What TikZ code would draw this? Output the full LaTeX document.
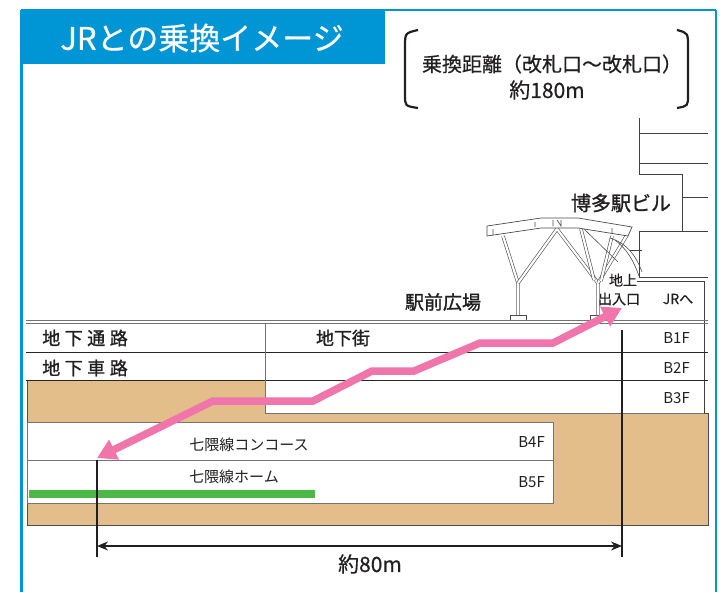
\documentclass[tikz,border=0pt]{standalone}
\usepackage{fontspec}
\setmainfont{Noto Sans CJK JP}
\newfontfamily\jpheavy[FakeBold=1.2]{Noto Sans CJK JP}
\newfontfamily\jpmid[FakeBold=0.5]{Noto Sans CJK JP}
\usetikzlibrary{arrows.meta}
\definecolor{frameblue}{RGB}{0,150,214}
\definecolor{earth}{RGB}{227,189,138}
\definecolor{routepink}{RGB}{239,117,170}
\definecolor{linegreen}{RGB}{77,184,72}
\definecolor{ink}{RGB}{35,31,32}
\tikzset{
  fs/.style={font=\fontsize{#1}{#1}\selectfont},
  hs/.style={font=\jpheavy\fontsize{#1}{#1}\selectfont},
  ms/.style={font=\jpmid\fontsize{#1}{#1}\selectfont},
  label/.style={inner sep=0pt, text=ink},
  bldg/.style={draw=black!75, line width=0.9pt},
  floorline/.style={draw=black!85, line width=0.9pt},
  member/.style={draw=black!70, double=white, double distance=2.2pt, line width=0.6pt},
  thinmember/.style={draw=black!70, line width=0.6pt},
  route/.style={draw=routepink, line width=7.5pt, line join=miter,
    {Triangle[length=19pt,width=21pt]}-{Triangle[length=19pt,width=21pt]}},
  dimline/.style={draw=ink, line width=1.6pt,
    {Stealth[length=11pt,width=9pt]}-{Stealth[length=11pt,width=9pt]}},
  marker/.style={draw=ink, line width=1.8pt},
}
\newcommand\spaced[1]{#1}
\begin{document}
\begin{tikzpicture}[x=1pt,y=-1pt]
\useasboundingbox (0,0) rectangle (728,592);

% outer frame and title tab
\fill[frameblue] (21,10) rectangle (385,64);
\draw[frameblue, line width=1.5pt] (21,10) -- (716,10);
\draw[frameblue, line width=3pt] (21,10) -- (21,592);
\draw[frameblue, line width=2.5pt] (716,10) -- (716,592);
\node[ms=31, inner sep=0pt, text=white] (title) at (202,38) {JRとの乗換イメージ};

% transfer distance note in brackets
\draw[ink, line width=2.2pt] (418,30) .. controls (405,33) .. (405,47) -- (405,95) .. controls (405,106) .. (418,108);
\draw[ink, line width=2.2pt] (677,30) .. controls (688,33) .. (688,47) -- (688,95) .. controls (688,106) .. (677,108);
\node[label, ms=20] (dist) at (552,64) {乗換距離（改札口～改札口）};
\node[label, ms=21] (distval) at (547,90) {約180m};

% station building
\draw[bldg] (639,118) -- (639,174) -- (682,174) -- (682,231) -- (639,231) -- (639,277) -- (708,277);
\draw[bldg] (639,133) -- (708,133);
\draw[bldg] (639,163) -- (708,163);
\draw[bldg] (682,197) -- (708,197);
\draw[bldg] (682,231) -- (708,231);
\draw[bldg] (630,250) -- (642,250);
\draw[bldg] (637,281) -- (704,281) -- (704,413);
\node[label, hs=20] (bldgname) at (621,203) {博多駅ビル};

% canopy over the station square
\draw[member] (503,236) -- (518,283) -- (518,316);
\draw[member] (518,283) -- (557,229) -- (598,283) -- (598,316);
\draw[member] (598,283) -- (627,235);
\draw[member] (581,229) -- (594,280);
\draw[member] (612,236) -- (601,281);
\draw[thinmember] (584,229) -- (618,262);
\draw[thinmember] (610,238) .. controls (628,244) and (636,256) .. (642,272);
\draw[thinmember] (615,240) .. controls (628,250) and (634,262) .. (639,276);
\draw[draw=black!70, fill=white, line width=0.7pt]
  (487,226) -- (487,236) -- (541,228) -- (578,228) -- (628,236) -- (632,227) -- (578,218) -- (541,218) -- cycle;
\draw[thinmember] (493,229) -- (493,235) (535,222) -- (535,227) (553,220) -- (553,226) (557,220) -- (561,226) -- (561,220) (612,228) -- (612,234);
\draw[draw=black!70, fill=white, line width=0.6pt] (510,315) rectangle (526,320);
\draw[draw=black!70, fill=white, line width=0.6pt] (590,315) rectangle (606,320);
\node[label, hs=19] (square) at (443,302) {駅前広場};
\node[label, ms=14] (exit1) at (623,280) {地上};
\node[label, ms=14] (exit2) at (619,299) {出入口};
\node[label, ms=14] (tojr) at (678,299) {JRへ};

% underground levels
\fill[earth] (27,380) -- (265,380) -- (265,413) -- (708,413) -- (708,525) -- (27,525) -- cycle;
\draw[draw=black!70, line width=0.8pt] (27,380) -- (265,380) (265,413) -- (708,413) -- (708,525) -- (27,525) -- (27,380);
\draw[fill=white, draw=black!55, line width=0.9pt] (27,422) rectangle (553,503);
\draw[draw=black!55, line width=0.9pt] (27,460) -- (553,460);

\draw[draw=black!55, line width=1pt] (26,320) -- (708,320);
\draw[draw=black!55, line width=1pt] (26,323.5) -- (708,323.5);
\draw[floorline] (26,352) -- (708,352);
\draw[floorline] (26,380) -- (708,380);
\draw[draw=black!55, line width=1pt] (265,324) -- (265,413) -- (704,413);

\node[label, hs=18] (b1left) at (85,338) {地\kern4.5pt 下\kern4.5pt 通\kern4.5pt 路};
\node[label, hs=18] (b2left) at (85,368) {地\kern4.5pt 下\kern4.5pt 車\kern4.5pt 路};
\node[label, hs=18] (mall) at (343,338) {地下街};
\node[label, fs=15, anchor=east] (b1f) at (690,338) {B1F};
\node[label, fs=15, anchor=east] (b2f) at (690,368) {B2F};
\node[label, fs=15, anchor=east] (b3f) at (690,398) {B3F};
\node[label, fs=15, anchor=east] (b4f) at (545,442) {B4F};
\node[label, fs=15, anchor=east] (b5f) at (545,482) {B5F};
\node[label, fs=15] (concourse) at (249,445) {七隈線コンコース};
\node[label, fs=15] (platform) at (234,477) {七隈線ホーム};

% platform track
\draw[draw=linegreen, line width=8pt] (29,494) -- (315,494);

% ticket gate markers and distance between them
\coordinate (gateL top) at (97,460);
\coordinate (gateL bot) at (97,557);
\coordinate (gateR top) at (622,330);
\coordinate (gateR bot) at (622,557);
\draw[marker] (gateL top) -- (gateL bot);
\draw[marker] (gateR top) -- (gateR bot);
\coordinate (dimL) at (97,546);
\coordinate (dimR) at (622,546);
\draw[dimline] (dimL) -- (dimR);
\node[label, ms=21] (dimtext) at (370,564) {約80m};

% transfer route
\coordinate (r0) at (97,458);
\coordinate (r1) at (213,401);
\coordinate (r2) at (313,401);
\coordinate (r3) at (372,371);
\coordinate (r4) at (414,371);
\coordinate (r5) at (480,343);
\coordinate (r6) at (553,343);
\coordinate (r7) at (622,308);
\draw[route] (r0) -- (r1) -- (r2) -- (r3) -- (r4) -- (r5) -- (r6) -- (r7);
\end{tikzpicture}
\end{document}
